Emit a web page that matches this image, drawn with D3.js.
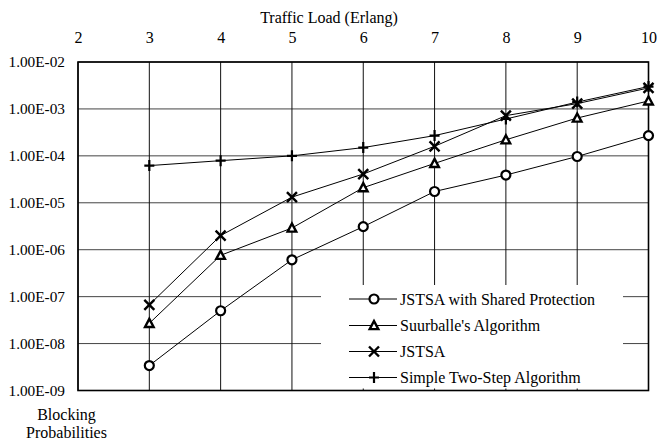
<!DOCTYPE html>
<html><head><meta charset="utf-8">
<script src="https://cdn.jsdelivr.net/npm/d3@7"></script>
<style>body{margin:0;background:#fff}svg text{font-family:'Liberation Serif','Times New Roman',Times,'DejaVu Serif',serif !important}</style>
</head><body><svg id="c" width="657" height="440"></svg>
<script>
const loads = [3,4,5,6,7,8,9,10];
const xTicks = [2,3,4,5,6,7,8,9,10];
const yTicks = [1e-2,1e-3,1e-4,1e-5,1e-6,1e-7,1e-8,1e-9];
const yTickLabels = ["1.00E-02","1.00E-03","1.00E-04","1.00E-05","1.00E-06","1.00E-07","1.00E-08","1.00E-09"];
const seriesNames = ["JSTSA with Shared Protection","Suurballe's Algorithm","JSTSA","Simple Two-Step Algorithm"];
const sharedVals = [3.4e-9,5.0e-8,6.1e-7,3.1e-6,1.74e-5,3.9e-5,9.7e-5,2.7e-4];
const suurVals = [2.7e-8,7.6e-7,2.9e-6,2.1e-5,6.9e-5,2.2e-4,6.4e-4,1.48e-3];
const jstsaVals = [6.7e-8,2.0e-6,1.32e-5,4.1e-5,1.6e-4,7.2e-4,1.3e-3,2.8e-3];
const simpleVals = [6.2e-5,7.9e-5,1.0e-4,1.5e-4,2.7e-4,6.1e-4,1.4e-3,3.0e-3];
const markers = ["circle","triangle","x","plus"];

const series = [sharedVals,suurVals,jstsaVals,simpleVals];
const FONT = "'Liberation Serif','Times New Roman',Times,'DejaVu Serif',serif";
const svg = d3.select("#c");
const L=78,R=648.5,T=62,B=390.5;
const x = d3.scaleLinear().domain([2,10]).range([L,R]);
const y = d3.scaleLog().domain([1e-9,1e-2]).range([B,T]);

// grid
const g = svg.append("g");
g.selectAll("line.h").data(yTicks).join("line")
 .attr("x1",L).attr("x2",R).attr("y1",d=>y(d)).attr("y2",d=>y(d))
 .attr("stroke","#444").attr("stroke-width",1);
g.selectAll("line.v").data(xTicks).join("line")
 .attr("x1",d=>x(d)).attr("x2",d=>x(d)).attr("y1",T).attr("y2",B)
 .attr("stroke","#111").attr("stroke-width",1);

// legend background box (hides grid)
const lg = {x0:321,x1:623,y0:285,y1:388.5};
svg.append("rect").attr("x",lg.x0).attr("y",lg.y0).attr("width",lg.x1-lg.x0).attr("height",lg.y1-lg.y0).attr("fill","#fff");

// frame
svg.append("rect").attr("x",L).attr("y",T).attr("width",R-L).attr("height",B-T)
 .attr("fill","none").attr("stroke","#000").attr("stroke-width",1.6);

// axes labels
const xa = d3.axisTop(x).tickValues(xTicks).tickSize(0).tickPadding(0).tickFormat(d3.format("d"));
const xg = svg.append("g").attr("transform",`translate(0,43)`).call(xa)
 .attr("font-family",FONT).attr("font-size",16);
xg.select(".domain").remove();
xg.selectAll("text").attr("fill","#000");

const ya = d3.axisLeft(y).tickValues(yTicks).tickSize(0).tickPadding(0).tickFormat((d,i)=>yTickLabels[i]);
const yg = svg.append("g").attr("transform",`translate(65,0)`).call(ya)
 .attr("font-family",FONT).attr("font-size",15.3);
yg.select(".domain").remove();
yg.selectAll("text").attr("fill","#000");

const T2 = svg.append("g").attr("font-family",FONT).attr("font-size",16);
T2.append("text").attr("x",329).attr("y",23).attr("text-anchor","middle").text("Traffic Load (Erlang)");
T2.append("text").attr("x",66.5).attr("y",420).attr("text-anchor","middle").text("Blocking");
T2.append("text").attr("x",66.5).attr("y",438).attr("text-anchor","middle").text("Probabilities");

function drawMarker(sel, type){
  if(type==="circle") sel.append("circle").attr("r",4.5).attr("fill","#fff").attr("stroke","#000").attr("stroke-width",2.2);
  else if(type==="triangle") sel.append("path").attr("d","M0,-4.5L4.3,3.6L-4.3,3.6Z").attr("fill","#fff").attr("stroke","#000").attr("stroke-width",2.4);
  else if(type==="x") sel.append("path").attr("d","M-5,-5L5,5M-5,5L5,-5").attr("stroke","#000").attr("stroke-width",2.4);
  else sel.append("path").attr("d","M-5,0L5,0M0,-5.5L0,5.5").attr("stroke","#000").attr("stroke-width",2.2);
}

const line = d3.line().x((d,i)=>x(loads[i])).y(d=>y(d));
series.forEach((vals,si)=>{
  svg.append("path").attr("d",line(vals)).attr("fill","none").attr("stroke","#000").attr("stroke-width",1);
});
series.forEach((vals,si)=>{
  vals.forEach((v,i)=>{
    const m = svg.append("g").attr("transform",`translate(${x(loads[i])},${y(v)})`);
    drawMarker(m, markers[si]);
  });
});

// legend
const rowsY = [299,325.5,351.5,377.5];
const lgText = svg.append("g").attr("font-family",FONT).attr("font-size",16);
seriesNames.forEach((n,i)=>{
  svg.append("line").attr("x1",349).attr("x2",397).attr("y1",rowsY[i]).attr("y2",rowsY[i]).attr("stroke","#000").attr("stroke-width",1);
  const m = svg.append("g").attr("transform",`translate(374,${rowsY[i]})`);
  drawMarker(m, markers[i]);
  lgText.append("text").attr("x",400).attr("y",rowsY[i]+5.5).text(n);
});
</script></body></html>
